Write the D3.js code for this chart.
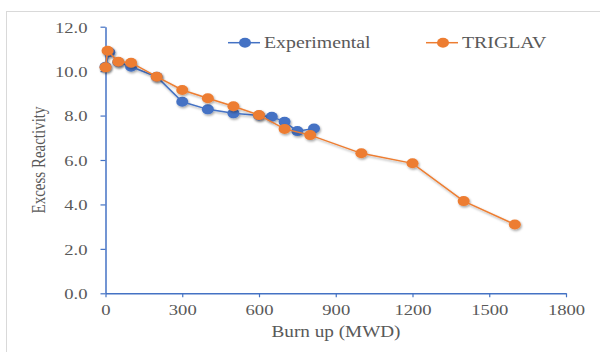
<!DOCTYPE html>
<head>
  <meta charset="utf-8">
  <style>
    body { margin: 0; background: #fff; }
    svg { display: block; font-family: 'Liberation Serif', 'Times New Roman', serif; }
  </style>
  <script src="https://cdn.jsdelivr.net/npm/d3@7"></script>
</head>
<body>
<div id=chart></div>
<script>
// data
const burnExp = [0, 15, 50, 100, 200, 300, 400, 500, 600, 650, 700, 750, 815]
const reactExp = [10.2, 10.85, 10.4, 10.2, 9.75, 8.62, 8.28, 8.1, 8.0, 7.95, 7.72, 7.3, 7.42]
const burnTri = [0, 8, 50, 100, 200, 300, 400, 500, 600, 700, 800, 1000, 1200, 1400, 1600]
const reactTri = [10.17, 10.92, 10.42, 10.38, 9.75, 9.15, 8.78, 8.42, 8.02, 7.4, 7.12, 6.3, 5.85, 4.15, 3.1]
const xTicks = [0, 300, 600, 900, 1200, 1500, 1800]
const yTicks = [0, 2, 4, 6, 8, 10, 12]
const seriesNames = ['Experimental', 'TRIGLAV']
const seriesColors = ['#4472C4', '#ED7D31']

const width = 600, height = 352
const sx = 1.2 // picture is stretched sideways
const textColor = '#595959'
const axisColor = '#4472C4'

const svg = d3.select('#chart').append('svg')
  .attr('width', width)
  .attr('height', height)

const defs = svg.append('defs')
defs.append('filter').attr('id', 'shadow')
  .attr('x', '-20%').attr('y', '-20%').attr('width', '140%').attr('height', '140%')
  .append('feDropShadow')
  .attr('dx', 1).attr('dy', 1.5).attr('stdDeviation', 1)
  .attr('flood-color', '#000').attr('flood-opacity', .35)

// chart frame
svg.append('rect')
  .attr('x', 6.5).attr('y', 11.5)
  .attr('width', 620).attr('height', 400)
  .attr('fill', '#fff')
  .attr('stroke', '#d9d9d9')

const x = d3.scaleLinear().domain([0, 1800]).range([105.5, 566])
const y = d3.scaleLinear().domain([0, 12]).range([293.3, 26.7])

const styleAxis = g => {
  g.attr('font-family', null).attr('font-size', null)
  g.select('.domain').attr('stroke', axisColor).attr('stroke-width', 1.5)
  g.selectAll('.tick line').attr('stroke', axisColor).attr('stroke-width', 1.2)
  g.selectAll('.tick text')
    .attr('transform', `scale(${sx},1)`)
    .attr('fill', textColor)
    .attr('font-size', 15.5)
}

// y axis
svg.append('g')
  .attr('transform', `translate(${x(0)},0)`)
  .call(d3.axisLeft(y).tickValues(yTicks).tickSize(5).tickSizeOuter(0).tickFormat(d3.format('.1f')))
  .call(styleAxis)
  .call(g => g.selectAll('.tick text').attr('x', -18 / sx).attr('dy', '0.35em'))

// x axis
svg.append('g')
  .attr('transform', `translate(0,${y(0)})`)
  .call(d3.axisBottom(x).tickValues(xTicks).tickSize(4).tickSizeOuter(0).tickFormat(d3.format('d')))
  .call(styleAxis)
  .call(g => g.selectAll('.tick text').attr('y', 22).attr('dy', null))

// axis titles
svg.append('text')
  .attr('transform', `translate(336,337) scale(${sx},1)`)
  .attr('text-anchor', 'middle')
  .attr('fill', textColor)
  .attr('font-size', 16)
  .text('Burn up (MWD)')

svg.append('text')
  .attr('transform', `translate(45,160) scale(${sx},1) rotate(-90)`)
  .attr('text-anchor', 'middle')
  .attr('fill', textColor)
  .attr('font-size', 15)
  .text('Excess Reactivity')

// series
const series = [
  { name: seriesNames[0], color: seriesColors[0], pts: burnExp.map((b, i) => [b, reactExp[i]]) },
  { name: seriesNames[1], color: seriesColors[1], pts: burnTri.map((b, i) => [b, reactTri[i]]) },
]
const line = d3.line().x(d => x(d[0])).y(d => y(d[1]))

series.forEach(s => {
  const g = svg.append('g').attr('filter', 'url(#shadow)')
  g.append('path')
    .attr('d', line(s.pts))
    .attr('fill', 'none')
    .attr('stroke', s.color)
    .attr('stroke-width', 1.5)
  g.selectAll('ellipse')
    .data(s.pts)
    .join('ellipse')
    .attr('cx', d => x(d[0]))
    .attr('cy', d => y(d[1]))
    .attr('rx', 6)
    .attr('ry', 5)
    .attr('fill', s.color)
})

// legend
const legendPos = [228, 426]
series.forEach((s, i) => {
  const lx = legendPos[i], ly = 42.7
  const g = svg.append('g')
  g.append('line')
    .attr('x1', lx).attr('x2', lx + 32)
    .attr('y1', ly).attr('y2', ly)
    .attr('stroke', s.color).attr('stroke-width', 1.5)
  g.append('ellipse')
    .attr('cx', lx + 17).attr('cy', ly)
    .attr('rx', 6).attr('ry', 5)
    .attr('fill', s.color)
  g.append('text')
    .attr('transform', `translate(${lx + 36},${ly + 5}) scale(${sx},1)`)
    .attr('fill', textColor)
    .attr('font-size', 16.5)
    .text(s.name)
})
</script>
</body>
